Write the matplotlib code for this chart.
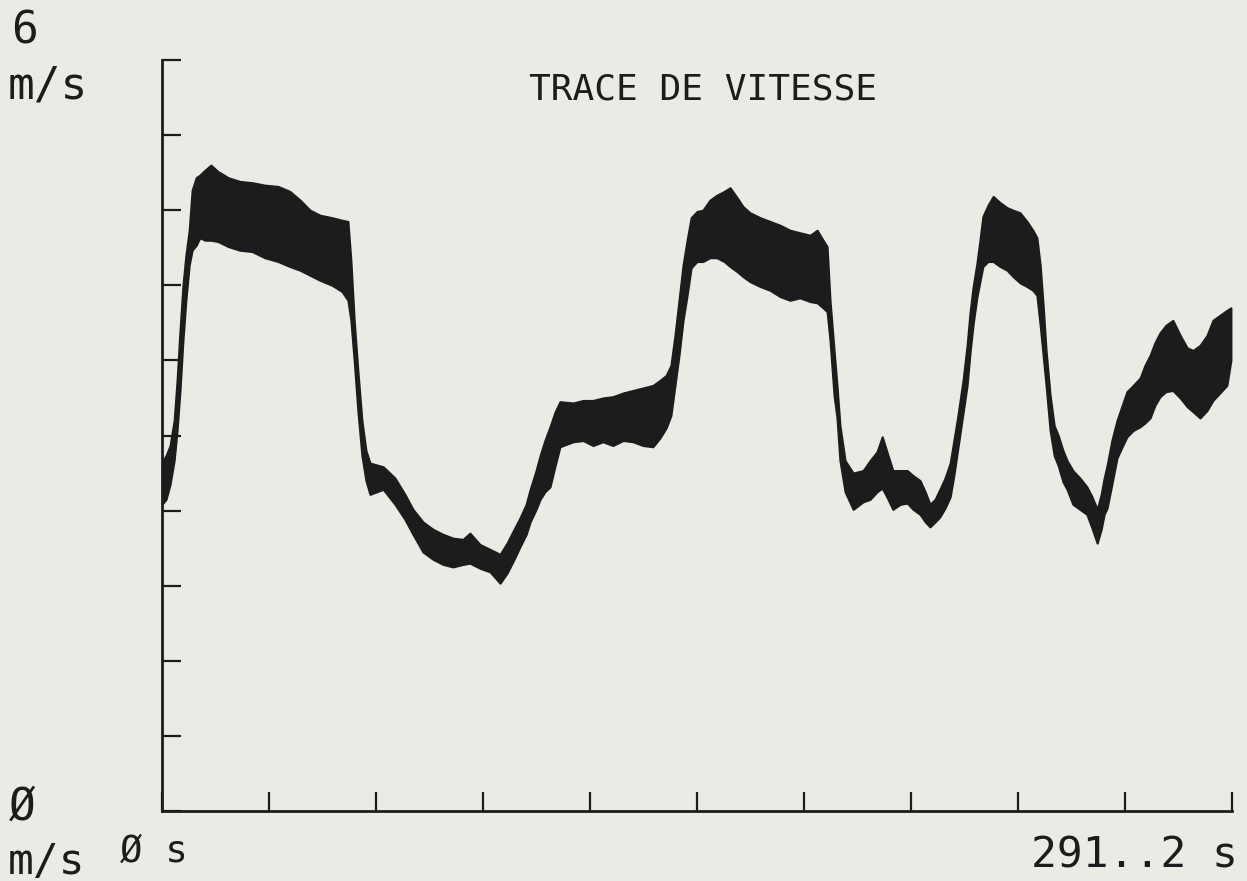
import matplotlib
matplotlib.use("Agg")
import matplotlib.pyplot as plt
import numpy as np

# ---- data ----
time_s = [0.0, 1.1, 2.2, 3.3, 4.1, 4.9, 5.7, 6.5, 7.4, 8.2, 9.3, 10.3, 11.7, 13.3, 15.2, 18.0,
          21.2, 24.5, 28.0, 31.6, 34.8, 37.6, 40.3, 43.0, 46.3, 49.0, 50.6, 51.4, 52.3, 53.3,
          54.4, 55.5, 56.6, 60.2, 63.4, 66.1, 68.3, 71.0, 73.8, 76.5, 79.2, 81.9, 83.8, 86.5,
          89.3, 92.0, 93.9, 95.8, 97.4, 99.1, 100.2, 101.8, 102.9, 104.2, 105.6, 107.0, 108.3,
          111.9, 114.6, 117.3, 120.0, 122.7, 125.5, 128.2, 130.9, 133.6, 135.5, 137.2, 138.5,
          139.6, 140.7, 141.8, 142.9, 144.0, 145.6, 147.2, 149.1, 151.0, 153.0, 154.6, 156.5,
          158.1, 160.0, 162.8, 165.5, 168.2, 170.9, 173.6, 176.4, 178.3, 179.9, 181.0, 181.8,
          182.9, 183.7, 184.5, 185.9, 188.1, 190.8, 192.7, 194.6, 196.0, 197.6, 198.9, 200.9,
          202.8, 204.4, 206.3, 207.7, 209.0, 210.4, 211.7, 213.1, 214.5, 215.5, 216.4, 217.2,
          218.0, 219.1, 219.9, 220.7, 221.8, 222.6, 223.4, 224.8, 226.2, 228.1, 230.0, 231.6,
          233.5, 235.4, 237.0, 238.1, 239.0, 239.8, 240.6, 241.7, 242.8, 243.9, 245.2, 246.3,
          247.9, 249.8, 251.7, 253.1, 254.5, 255.6, 256.4, 257.2, 258.5, 259.9, 261.3, 262.6,
          264.3, 266.2, 267.5, 268.9, 270.2, 271.6, 273.2, 275.1, 277.1, 279.0, 280.6, 282.5,
          284.4, 286.0, 287.9, 289.8, 290.9]

speed_upper = [2.79, 2.84, 2.92, 3.12, 3.44, 3.84, 4.20, 4.44, 4.64, 4.96, 5.06, 5.08, 5.12, 5.16,
               5.11, 5.06, 5.03, 5.02, 5.00, 4.99, 4.95, 4.88, 4.80, 4.76, 4.74, 4.72, 4.71, 4.40,
               3.92, 3.52, 3.12, 2.88, 2.78, 2.75, 2.66, 2.53, 2.41, 2.31, 2.25, 2.21, 2.18, 2.17,
               2.22, 2.13, 2.09, 2.05, 2.14, 2.25, 2.34, 2.45, 2.57, 2.72, 2.84, 2.96, 3.07, 3.19,
               3.27, 3.26, 3.28, 3.28, 3.30, 3.31, 3.34, 3.36, 3.38, 3.40, 3.44, 3.48, 3.56, 3.80,
               4.08, 4.36, 4.56, 4.74, 4.79, 4.80, 4.88, 4.92, 4.95, 4.98, 4.90, 4.83, 4.78, 4.74,
               4.71, 4.68, 4.64, 4.62, 4.60, 4.64, 4.56, 4.51, 4.08, 3.68, 3.40, 3.08, 2.80, 2.70,
               2.72, 2.80, 2.87, 2.99, 2.84, 2.72, 2.72, 2.72, 2.68, 2.64, 2.55, 2.45, 2.49, 2.57,
               2.66, 2.78, 2.96, 3.12, 3.28, 3.44, 3.72, 3.98, 4.18, 4.38, 4.56, 4.75, 4.84, 4.91,
               4.86, 4.82, 4.80, 4.78, 4.71, 4.64, 4.58, 4.36, 4.04, 3.68, 3.32, 3.08, 3.00, 2.88,
               2.80, 2.72, 2.66, 2.59, 2.51, 2.41, 2.53, 2.66, 2.76, 2.96, 3.12, 3.24, 3.35, 3.40,
               3.46, 3.56, 3.64, 3.74, 3.82, 3.88, 3.92, 3.80, 3.70, 3.68, 3.72, 3.80, 3.92, 3.96,
               4.00, 4.02]

speed_lower = [2.45, 2.49, 2.61, 2.80, 3.04, 3.36, 3.76, 4.08, 4.36, 4.48, 4.52, 4.58, 4.56, 4.56,
               4.55, 4.51, 4.48, 4.47, 4.42, 4.39, 4.35, 4.32, 4.28, 4.24, 4.20, 4.15, 4.08, 3.92,
               3.60, 3.20, 2.84, 2.64, 2.53, 2.57, 2.45, 2.33, 2.21, 2.07, 2.01, 1.97, 1.95, 1.97,
               1.98, 1.94, 1.91, 1.82, 1.90, 2.01, 2.11, 2.21, 2.31, 2.41, 2.49, 2.55, 2.59, 2.76,
               2.91, 2.95, 2.96, 2.92, 2.95, 2.92, 2.96, 2.95, 2.92, 2.91, 2.98, 3.06, 3.16, 3.40,
               3.64, 3.92, 4.12, 4.34, 4.39, 4.39, 4.42, 4.42, 4.39, 4.35, 4.31, 4.27, 4.23, 4.19,
               4.16, 4.11, 4.08, 4.10, 4.07, 4.06, 4.02, 3.99, 3.76, 3.32, 3.14, 2.80, 2.55, 2.41,
               2.47, 2.49, 2.55, 2.58, 2.49, 2.41, 2.45, 2.46, 2.41, 2.37, 2.31, 2.27, 2.31, 2.35,
               2.42, 2.51, 2.68, 2.86, 3.02, 3.18, 3.40, 3.66, 3.88, 4.11, 4.23, 4.35, 4.39, 4.39,
               4.35, 4.32, 4.27, 4.22, 4.19, 4.16, 4.12, 3.88, 3.64, 3.40, 3.04, 2.84, 2.76, 2.63,
               2.57, 2.45, 2.41, 2.37, 2.26, 2.14, 2.25, 2.37, 2.42, 2.61, 2.82, 2.91, 2.99, 3.04,
               3.07, 3.10, 3.14, 3.24, 3.31, 3.35, 3.36, 3.30, 3.23, 3.19, 3.14, 3.20, 3.28, 3.34,
               3.40, 3.60]

y_ticks = [0.0, 0.6, 1.2, 1.8, 2.4, 3.0, 3.6, 4.2, 4.8, 5.4, 6.0]
x_ticks = [0.0, 29.12, 58.24, 87.36, 116.48, 145.6, 174.72, 203.84, 232.96, 262.08, 291.2]
x_max = 291.2
y_max = 6.0

title = "TRACE DE VITESSE"
y_top_label = ["6", "m/s"]
y_bottom_label = ["Ø", "m/s"]
x_start_label = "Ø s"
x_end_label = "291..2 s"

# ---- figure ----
W, H = 1247, 881
paper = "#ebeae5"
ink = "#1c1c1c"
fig = plt.figure(figsize=(W / 100, H / 100), dpi=100, facecolor=paper)
ax = fig.add_axes([162 / W, 1 - 811 / H, (1232 - 162) / W, (811 - 60) / H], facecolor=paper)

ax.fill_between(time_s, speed_lower, speed_upper, color=ink, linewidth=1.5, edgecolor=ink)

ax.set_xlim(0, x_max)
ax.set_ylim(0, y_max)
for s in ("top", "right"):
    ax.spines[s].set_visible(False)
for s in ("left", "bottom"):
    ax.spines[s].set_linewidth(2.0)
    ax.spines[s].set_color(ink)
ax.set_yticks(y_ticks)
ax.set_xticks(x_ticks)
ax.tick_params(axis="both", direction="in", length=14, width=1.6, color=ink,
               labelleft=False, labelbottom=False)

mono = "DejaVu Sans Mono"


def ftext(x, y, s, size, ha="left"):
    fig.text(x / W, 1 - y / H, s, fontsize=size, family=mono, color=ink,
             ha=ha, va="baseline")


ftext(11, 43, y_top_label[0], 32)
ftext(8, 99, y_top_label[1], 32)
ftext(9, 820, y_bottom_label[0], 32)
ftext(8, 874, y_bottom_label[1], 31)
ftext(120, 862, x_start_label, 27)
ftext(1238, 867, x_end_label, 31, ha="right")
ftext(703, 100, title, 26, ha="center")

fig.savefig("out.png", dpi=100, facecolor=paper)
